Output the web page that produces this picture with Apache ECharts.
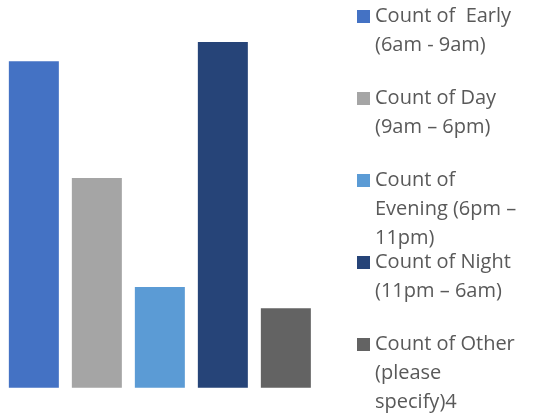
<!DOCTYPE html>
<html>
<head>
<meta charset="utf-8">
<script src="https://cdn.jsdelivr.net/npm/echarts@6/dist/echarts.min.js"></script>
<style>
  html, body { margin: 0; padding: 0; background: #ffffff; }
  #chart { width: 543px; height: 418px; }
</style>
</head>
<body>
<div id="chart"></div>
<script>
// Series names and their wrapped legend lines
const seriesNames = [
  'Count of  Early (6am - 9am)',
  'Count of Day (9am \u2013 6pm)',
  'Count of Evening (6pm \u2013 11pm)',
  'Count of Night (11pm \u2013 6am)',
  'Count of Other (please specify)4'
];
const legendLines = [
  ['Count of  Early', '(6am - 9am)'],
  ['Count of Day', '(9am \u2013 6pm)'],
  ['Count of', 'Evening (6pm \u2013', '11pm)'],
  ['Count of Night', '(11pm \u2013 6am)'],
  ['Count of Other', '(please', 'specify)4']
];
const counts = [97.3, 62.5, 30, 103, 23.7];
const colors = ['#4472C4', '#A5A5A5', '#5B9BD5', '#264478', '#636363'];
const categories = ['Total'];

const chart = echarts.init(document.getElementById('chart'));

const LINE_H = 29;
const ICON = 13;
const ITEM_STEP = 82;
const FIRST_ICON_TOP = 10;

// One legend block per series so every entry sits on a fixed vertical step.
// Legend text is centred on its swatch, so blank lines are put in front of the
// wrapped text to bring the swatch level with the first written line.
const legends = seriesNames.map((name, i) => {
  const n = legendLines[i].length;
  const iconCenter = FIRST_ICON_TOP + i * ITEM_STEP + ICON / 2;
  return {
    data: [name],
    orient: 'vertical',
    left: 357,
    top: iconCenter - (2 * n - 1) * LINE_H / 2,
    padding: 0,
    itemWidth: ICON,
    itemHeight: ICON,
    icon: 'rect',
    formatter: () => '\n'.repeat(n - 1) + legendLines[i].join('\n'),
    textStyle: {
      fontFamily: 'Open Sans',
      fontSize: 20,
      color: '#595959',
      lineHeight: LINE_H
    }
  };
});

chart.setOption({
  animation: false,
  backgroundColor: '#ffffff',
  grid: { left: 0, right: 223.3, top: 42, bottom: 30.3, containLabel: false },
  legend: legends,
  xAxis: {
    type: 'category',
    data: categories,
    show: false
  },
  yAxis: {
    type: 'value',
    min: 0,
    max: 103,
    show: false,
    splitLine: { show: false }
  },
  series: seriesNames.map((name, i) => ({
    name: name,
    type: 'bar',
    data: [counts[i]],
    barWidth: 50,
    barGap: '26%',
    itemStyle: { color: colors[i] }
  }))
});
</script>
</body>
</html>
